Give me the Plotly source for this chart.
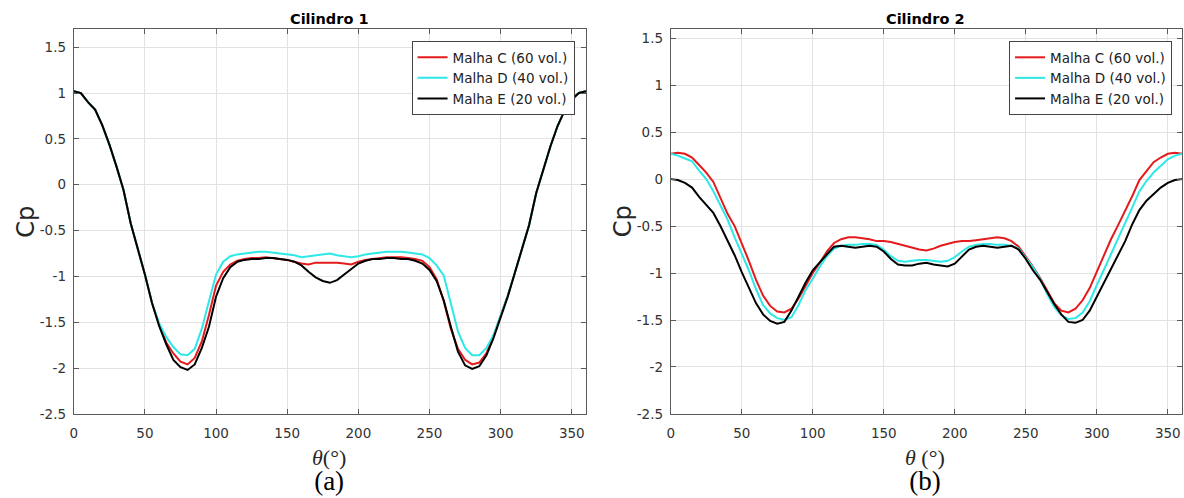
import plotly.graph_objects as go

# ---------------- data ----------------
theta = list(range(0, 361, 5))

series_names = ["Malha C (60 vol.)", "Malha D (40 vol.)", "Malha E (20 vol.)"]

# Cilindro 1
c1_C = [1.02, 1.00, 0.90, 0.82, 0.65, 0.44, 0.20, -0.06, -0.42, -0.69,
        -0.98, -1.29, -1.53, -1.72, -1.84, -1.93, -1.96, -1.89, -1.71, -1.42,
        -1.10, -0.95, -0.87, -0.83, -0.81, -0.80, -0.80, -0.79, -0.80, -0.81,
        -0.82, -0.84, -0.86, -0.87, -0.85, -0.85, -0.85, -0.85, -0.86, -0.87,
        -0.84, -0.82, -0.81, -0.80, -0.79, -0.79, -0.79, -0.80, -0.81, -0.83,
        -0.90, -1.03, -1.27, -1.57, -1.79, -1.91, -1.96, -1.94, -1.84, -1.65,
        -1.43, -1.21, -0.96, -0.70, -0.44, -0.09, 0.16, 0.42, 0.64, 0.81,
        0.93, 1.00, 1.02]
c1_D = [1.02, 1.00, 0.90, 0.82, 0.65, 0.44, 0.20, -0.06, -0.42, -0.69,
        -0.98, -1.29, -1.51, -1.66, -1.77, -1.85, -1.86, -1.79, -1.57, -1.27,
        -0.98, -0.84, -0.78, -0.76, -0.75, -0.74, -0.73, -0.73, -0.74, -0.75,
        -0.76, -0.77, -0.79, -0.78, -0.77, -0.76, -0.75, -0.77, -0.78, -0.79,
        -0.78, -0.76, -0.75, -0.74, -0.73, -0.73, -0.73, -0.74, -0.75, -0.76,
        -0.80, -0.88, -0.99, -1.30, -1.60, -1.78, -1.86, -1.86, -1.78, -1.64,
        -1.43, -1.21, -0.96, -0.70, -0.44, -0.09, 0.16, 0.42, 0.64, 0.81,
        0.93, 1.00, 1.02]
c1_E = [1.02, 1.00, 0.90, 0.82, 0.65, 0.44, 0.20, -0.06, -0.42, -0.69,
        -0.98, -1.29, -1.54, -1.74, -1.91, -1.99, -2.02, -1.96, -1.78, -1.55,
        -1.22, -1.02, -0.90, -0.84, -0.82, -0.81, -0.81, -0.80, -0.80, -0.81,
        -0.82, -0.84, -0.88, -0.95, -1.01, -1.05, -1.07, -1.04, -0.98, -0.92,
        -0.86, -0.83, -0.81, -0.81, -0.80, -0.80, -0.81, -0.81, -0.83, -0.86,
        -0.93, -1.05, -1.26, -1.55, -1.82, -1.97, -2.01, -1.98, -1.86, -1.67,
        -1.45, -1.22, -0.96, -0.70, -0.44, -0.09, 0.16, 0.42, 0.64, 0.81,
        0.93, 1.00, 1.02]

# Cilindro 2
c2_C = [0.27, 0.28, 0.27, 0.23, 0.15, 0.07, -0.03, -0.21, -0.37, -0.50,
        -0.68, -0.87, -1.07, -1.24, -1.35, -1.41, -1.42, -1.38, -1.27, -1.13,
        -1.00, -0.89, -0.77, -0.68, -0.64, -0.62, -0.62, -0.63, -0.64, -0.66,
        -0.66, -0.67, -0.69, -0.71, -0.73, -0.75, -0.76, -0.74, -0.71, -0.69,
        -0.67, -0.66, -0.66, -0.65, -0.64, -0.63, -0.62, -0.63, -0.66, -0.72,
        -0.82, -0.93, -1.05, -1.18, -1.32, -1.40, -1.42, -1.38, -1.29, -1.16,
        -0.99, -0.81, -0.64, -0.49, -0.34, -0.18, -0.01, 0.09, 0.18, 0.23,
        0.27, 0.28, 0.27]
c2_D = [0.27, 0.25, 0.22, 0.19, 0.09, 0.00, -0.13, -0.28, -0.43, -0.62,
        -0.79, -0.97, -1.17, -1.34, -1.43, -1.48, -1.50, -1.47, -1.34, -1.18,
        -1.06, -0.93, -0.82, -0.74, -0.71, -0.70, -0.70, -0.69, -0.69, -0.70,
        -0.75, -0.82, -0.87, -0.88, -0.87, -0.86, -0.86, -0.87, -0.88, -0.87,
        -0.83, -0.77, -0.72, -0.70, -0.69, -0.69, -0.70, -0.70, -0.71, -0.74,
        -0.84, -0.94, -1.06, -1.22, -1.36, -1.45, -1.49, -1.48, -1.42, -1.30,
        -1.13, -0.97, -0.80, -0.63, -0.47, -0.30, -0.13, -0.02, 0.07, 0.14,
        0.21, 0.25, 0.27]
c2_E = [0.00, -0.01, -0.04, -0.09, -0.19, -0.28, -0.36, -0.50, -0.65, -0.81,
        -0.99, -1.16, -1.32, -1.44, -1.51, -1.54, -1.52, -1.40, -1.25, -1.10,
        -0.97, -0.88, -0.80, -0.72, -0.71, -0.72, -0.73, -0.72, -0.71, -0.72,
        -0.77, -0.85, -0.91, -0.92, -0.92, -0.90, -0.89, -0.91, -0.92, -0.93,
        -0.90, -0.82, -0.75, -0.72, -0.71, -0.72, -0.73, -0.72, -0.71, -0.75,
        -0.85, -0.97, -1.07, -1.20, -1.33, -1.44, -1.52, -1.53, -1.50, -1.40,
        -1.25, -1.11, -0.96, -0.81, -0.66, -0.48, -0.33, -0.23, -0.16, -0.09,
        -0.04, -0.01, 0.00]

x_ticks = [0, 50, 100, 150, 200, 250, 300, 350]
y_ticks = [-2.5, -2, -1.5, -1, -0.5, 0, 0.5, 1, 1.5]
y_tick_text = ["-2.5", "-2", "-1.5", "-1", "-0.5", "0", "0.5", "1", "1.5"]

colors = ["#e41a1c", "#2ee8e8", "#000000"]

# ---------------- figure ----------------
W, H = 1184, 498
fig = go.Figure()

for vals, name, col in zip([c1_C, c1_D, c1_E], series_names, colors):
    fig.add_trace(go.Scatter(x=theta, y=vals, mode="lines", name=name,
                             line=dict(color=col, width=2),
                             xaxis="x", yaxis="y", legend="legend"))
for vals, name, col in zip([c2_C, c2_D, c2_E], series_names, colors):
    fig.add_trace(go.Scatter(x=theta, y=vals, mode="lines", name=name,
                             line=dict(color=col, width=2),
                             xaxis="x2", yaxis="y2", legend="legend2"))

tick_font = dict(family="DejaVu Sans", size=13.5, color="#333333")
frame = "#5a5a5a"
grid = "#e2e2e2"

def xax(domain, anchor):
    return dict(domain=domain, anchor=anchor, range=[0, 360],
                tickvals=x_ticks, ticks="inside", ticklen=5, tickcolor=frame,
                showline=True, linecolor=frame, linewidth=1, mirror="ticks",
                showgrid=True, gridcolor=grid, zeroline=False,
                tickfont=tick_font, ticklabelstandoff=7)

def yax(domain, anchor, top):
    return dict(domain=domain, anchor=anchor, range=[-2.5, top],
                tickvals=y_ticks, ticktext=y_tick_text, ticks="inside",
                ticklen=5, tickcolor=frame,
                showline=True, linecolor=frame, linewidth=1, mirror="ticks",
                showgrid=True, gridcolor=grid, zeroline=False,
                tickfont=tick_font, ticklabelstandoff=4)

legend_style = dict(yanchor="top", xanchor="right", y=1 - 41.7 / H,
                    bgcolor="white", bordercolor="#444444", borderwidth=1,
                    font=dict(family="DejaVu Sans", size=13.5, color="#222222"),
                    tracegroupgap=0, itemwidth=30)

ydom = [1 - 420.7 / H, 1 - 29.3 / H]
fig.update_layout(
    width=W, height=H,
    margin=dict(l=0, r=0, t=0, b=0),
    paper_bgcolor="white", plot_bgcolor="white",
    xaxis=xax([70 / W, 584 / W], "y"),
    yaxis=yax(ydom, "x", 1.7),
    xaxis2=xax([669 / W, 1182 / W], "y2"),
    yaxis2=yax(ydom, "x2", 1.6),
    legend=dict(x=572.5 / W, **legend_style),
    legend2=dict(x=1172 / W, **legend_style),
    showlegend=True,
)

ann = []
def add_text(text, x, y, size, family, angle=0, color="#000000"):
    ann.append(dict(text=text, x=x / W, y=1 - y / H, xref="paper", yref="paper",
                    showarrow=False, xanchor="center", yanchor="middle",
                    textangle=angle, font=dict(family=family, size=size, color=color)))

add_text("<b>Cilindro 1</b>", 327, 19.5, 14.5, "DejaVu Sans")
add_text("<b>Cilindro 2</b>", 925, 19.5, 14.5, "DejaVu Sans")
add_text("Cp", 22.5, 225, 24, "DejaVu Sans", angle=-90, color="#262626")
add_text("Cp", 621, 225, 24, "DejaVu Sans", angle=-90, color="#262626")
# x-axis label and panel letter as one two-line text block
add_text("<span style='font-size:22px;color:#262626'><i>θ</i>(°)</span><br>"
         "<span style='font-size:27px'>(a)</span>",
         326, 478, 19, "Liberation Serif")
add_text("<span style='font-size:22px;color:#262626'><i>θ</i> (°)</span><br>"
         "<span style='font-size:27px'>(b)</span>",
         924, 478, 19, "Liberation Serif")
fig.update_layout(annotations=ann)

fig.write_html("out.html", config={"displayModeBar": False})
